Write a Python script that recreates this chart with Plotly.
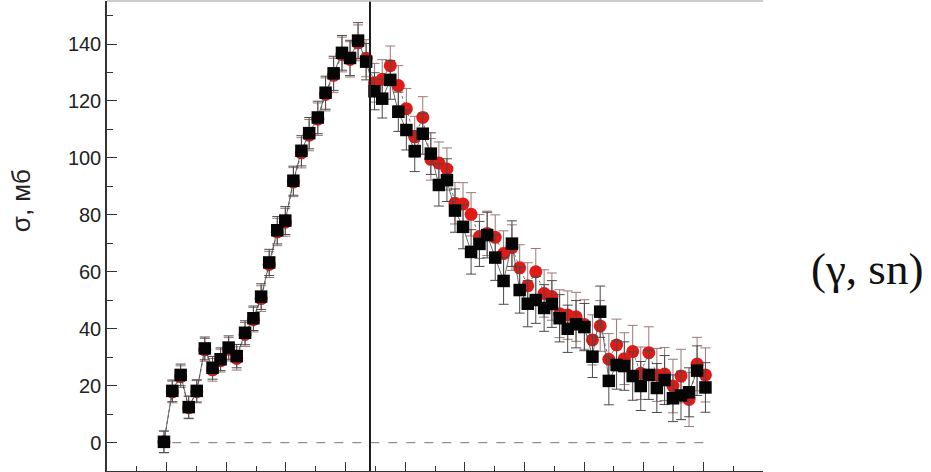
import plotly.graph_objects as go

# Photon energy grid (MeV) shared by both data sets
energy = [7.91, 8.19, 8.47, 8.74, 9.01, 9.28, 9.54, 9.81, 10.08, 10.35,
          10.63, 10.91, 11.17, 11.44, 11.71, 11.98, 12.25, 12.52, 12.78, 13.07,
          13.33, 13.60, 13.88, 14.15, 14.42, 14.69, 14.97, 15.23, 15.50, 15.77,
          16.04, 16.32, 16.59, 16.86, 17.13, 17.40, 17.67, 17.94, 18.21, 18.49,
          18.75, 19.02, 19.30, 19.58, 19.84, 20.11, 20.38, 20.66, 20.92, 21.18,
          21.45, 21.73, 22.01, 22.28, 22.54, 22.83, 23.09, 23.35, 23.63, 23.90,
          24.17, 24.44, 24.70, 24.98, 25.25, 25.52, 25.79, 26.07]

# Cross section, set 1 (black squares), mb
sigma_black = [0.3, 18.2, 23.8, 12.5, 18.2, 33.1, 26.3, 29.3, 33.4, 30.4,
               38.6, 43.7, 51.3, 63.3, 74.6, 78.0, 92.0, 102.5, 108.7, 114.2,
               122.9, 129.7, 136.9, 135.1, 141.2, 133.8, 123.4, 120.8, 127.4, 116.2,
               109.8, 102.4, 108.5, 101.5, 90.5, 92.2, 81.5, 75.8, 67.0, 69.8,
               72.9, 65.0, 56.8, 69.9, 53.6, 48.8, 50.1, 47.3, 48.7, 43.7,
               40.0, 41.6, 40.6, 30.2, 46.0, 21.7, 27.3, 26.9, 23.4, 19.9,
               23.8, 19.2, 22.0, 15.6, 16.6, 17.7, 25.3, 19.4]
err_black = [3.8, 3.8, 3.8, 3.9, 3.9, 4.0, 4.0, 4.0, 4.1, 4.1,
             4.2, 4.3, 4.5, 4.6, 4.8, 4.9, 5.1, 5.3, 5.5, 5.7,
             5.8, 6.0, 6.1, 6.2, 6.3, 6.4, 6.5, 6.8, 6.8, 6.9,
             7.0, 7.2, 7.2, 7.3, 7.4, 7.5, 7.6, 7.7, 7.8, 7.9,
             8.0, 8.0, 8.2, 8.0, 8.1, 8.1, 8.2, 8.2, 8.2, 8.3,
             8.3, 8.3, 8.3, 7.3, 9.0, 8.4, 8.5, 8.5, 8.5, 8.6,
             8.6, 8.6, 8.6, 8.2, 8.5, 8.6, 8.7, 8.7]

# Cross section, set 2 (red circles), mb
sigma_red = [0.3, 17.8, 23.2, 12.3, 17.9, 32.6, 25.6, 28.8, 32.8, 29.6,
             38.0, 43.2, 50.6, 62.6, 74.0, 77.4, 91.5, 101.8, 108.0, 113.6,
             122.3, 129.0, 136.3, 134.6, 140.4, 135.0, 126.4, 127.6, 132.4, 125.4,
             117.3, 107.4, 114.2, 99.5, 98.2, 96.1, 84.1, 83.8, 80.2, 72.4,
             73.5, 72.1, 66.4, 68.5, 61.4, 55.1, 60.0, 52.4, 51.3, 45.3,
             44.8, 44.2, 41.5, 36.1, 41.0, 29.3, 34.3, 29.5, 32.0, 24.4,
             31.6, 23.8, 24.1, 19.9, 23.4, 15.2, 27.6, 23.8]
err_red = [3.8, 3.8, 3.8, 3.9, 3.9, 4.0, 4.0, 4.0, 4.1, 4.1,
           4.2, 4.3, 4.5, 4.6, 4.8, 4.9, 5.1, 5.3, 5.5, 5.7,
           5.8, 6.0, 6.1, 6.2, 6.3, 6.5, 6.8, 6.9, 6.9, 7.0,
           7.1, 7.2, 7.3, 7.3, 7.4, 7.4, 7.3, 7.5, 7.6, 7.7,
           7.8, 7.9, 8.0, 8.0, 8.1, 8.1, 8.2, 8.3, 8.3, 8.4,
           8.5, 8.6, 8.7, 8.8, 8.9, 9.0, 9.1, 9.1, 9.2, 9.2,
           9.1, 9.3, 9.3, 9.4, 9.4, 9.5, 9.4, 9.5]

threshold_line = 14.82          # vertical marker energy, MeV
y_ticks = [0, 20, 40, 60, 80, 100, 120, 140]

fig = go.Figure()

fig.add_trace(go.Scatter(
    x=energy, y=sigma_red, mode="markers+lines",
    line=dict(color="#3a3a3a", width=0.7, dash="dot"),
    marker=dict(symbol="circle", size=13, color="#e01a17", line=dict(width=0)),
    error_y=dict(type="data", array=err_red, visible=True,
                 color="#9a7878", thickness=1, width=5),
    showlegend=False, hoverinfo="skip",
))

fig.add_trace(go.Scatter(
    x=energy, y=sigma_black, mode="markers+lines",
    line=dict(color="#444444", width=0.8),
    marker=dict(symbol="square", size=12.5, color="#050505", line=dict(width=0)),
    error_y=dict(type="data", array=err_black, visible=True,
                 color="#4a4a4a", thickness=1, width=5),
    showlegend=False, hoverinfo="skip",
))

# dashed zero baseline
fig.add_shape(type="line", xref="x", yref="y",
              x0=energy[1], x1=energy[-1], y0=0, y1=0,
              line=dict(color="#777777", width=1, dash="dash"))

# vertical marker line
fig.add_shape(type="line", xref="x", yref="paper",
              x0=threshold_line, x1=threshold_line, y0=0, y1=1,
              line=dict(color="#1e1e1e", width=2))

# light top frame
fig.add_shape(type="line", xref="paper", yref="paper",
              x0=0, x1=1, y0=1, y1=1,
              line=dict(color="#bdbdbd", width=1.5))

fig.add_annotation(text="σ, мб", xref="paper", yref="paper",
                   x=-0.132, y=0.575, xanchor="center", yanchor="middle",
                   textangle=-90, showarrow=False,
                   font=dict(family="Liberation Sans, Arial", size=26, color="#222222"))

fig.add_annotation(text="(γ, sn)", xref="paper", yref="paper",
                   x=1.1585, y=0.429, showarrow=False,
                   xanchor="center", yanchor="middle",
                   font=dict(family="Liberation Serif, Times New Roman", size=45, color="#111111"))

fig.update_xaxes(range=[6, 28], tick0=6, dtick=2, ticks="inside", ticklen=9,
                 tickwidth=1.2, tickcolor="#333333", showticklabels=False,
                 showline=True, linecolor="#333333", linewidth=1.5,
                 showgrid=False, zeroline=False,
                 minor=dict(ticks="inside", ticklen=5, dtick=1, tickcolor="#333333",
                            tickwidth=1.2, showgrid=False))

fig.update_yaxes(range=[-9.94, 155.1], tickvals=y_ticks, ticks="inside", ticklen=10,
                 tickwidth=1.2, tickcolor="#333333",
                 tickfont=dict(family="Liberation Sans, Arial", size=20, color="#222222"),
                 showline=True, linecolor="#333333", linewidth=1.5,
                 showgrid=False, zeroline=False,
                 minor=dict(ticks="inside", ticklen=6, dtick=10, tickcolor="#333333",
                            tickwidth=1.2, showgrid=False))

fig.update_layout(width=931, height=472,
                  margin=dict(l=107, r=168, t=1, b=1),
                  plot_bgcolor="white", paper_bgcolor="white")

fig.write_html("out.html")
